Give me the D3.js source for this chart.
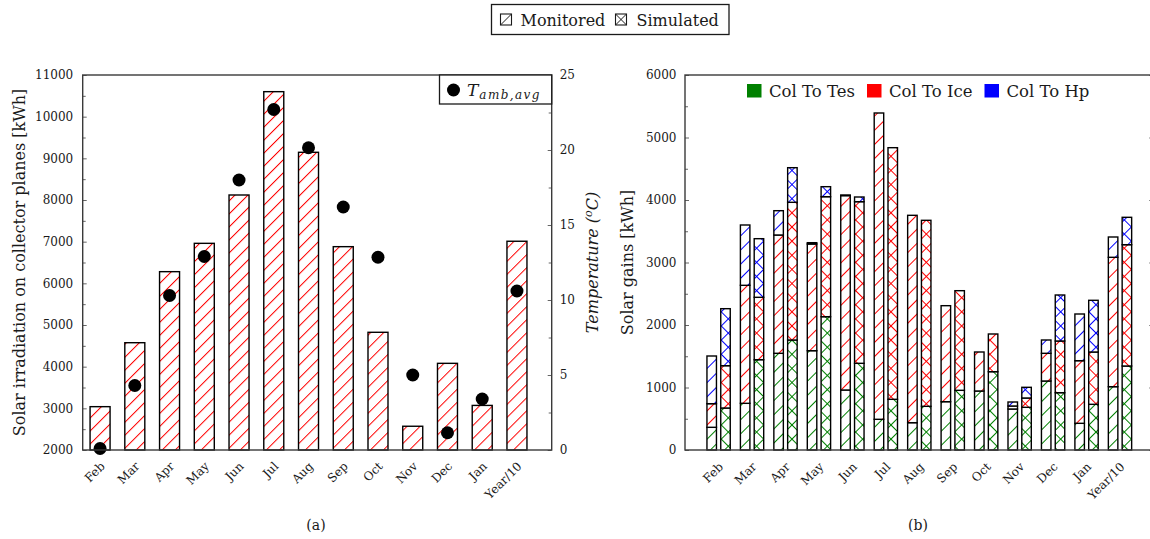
<!DOCTYPE html>
<html>
<head>
<meta charset="utf-8">
<script src="https://cdn.jsdelivr.net/npm/d3@7"></script>
<style>
  html, body { margin: 0; padding: 0; background: #fff; }
  svg { display: block; font-family: "DejaVu Serif", serif; }
</style>
</head>
<body>
<svg id="fig" width="1150" height="539"></svg>
<script>
// ---------- data ----------
const months = ["Feb", "Mar", "Apr", "May", "Jun", "Jul", "Aug", "Sep", "Oct", "Nov", "Dec", "Jan", "Year/10"];

// (a) solar irradiation on collector planes [kWh] and mean ambient temperature [°C]
const irradiation = [3040, 4575, 6280, 6960, 8120, 10600, 9145, 6880, 4825, 2570, 4080, 3070, 7010];
const tAmbAvg = [0.1, 4.3, 10.3, 12.9, 18.0, 22.7, 20.15, 16.2, 12.85, 5.0, 1.15, 3.4, 10.6];
const irrTicks = [2000, 3000, 4000, 5000, 6000, 7000, 8000, 9000, 10000, 11000];
const tempTicks = [0, 5, 10, 15, 20, 25];

// (b) solar gains [kWh], monitored and simulated, split by destination
const monColToTes = [363, 747, 1547, 1589, 960, 491, 437, 773, 944, 656, 1104, 427, 1013];
const monColToIce = [378, 1888, 1893, 1707, 3110, 4901, 3318, 1536, 624, 48, 443, 1002, 2070];
const monColToHp  = [763, 965, 389, 21, 10, 0, 0, 0, 0, 64, 213, 747, 325];
const simColToTes = [672, 1445, 1760, 2133, 1387, 811, 699, 955, 1253, 683, 917, 731, 1344];
const simColToIce = [677, 998, 2203, 1920, 2586, 4026, 2976, 1594, 603, 149, 827, 837, 1941];
const simColToHp  = [912, 938, 554, 160, 75, 0, 0, 0, 0, 171, 736, 827, 438];
const gainTicks = [0, 1000, 2000, 3000, 4000, 5000, 6000];

const seriesNames = ["Col To Tes", "Col To Ice", "Col To Hp"];
const seriesColors = ["#008000", "#ff0000", "#0000ff"];

// ---------- setup ----------
const svg = d3.select("#fig");
const defs = svg.append("defs");
const ink = "#1a1a1a";
const spine = "#3a3a3a";

// north-east lines, optionally crossed with north-west lines, as a rotated stripe pattern
function makePattern(id, color, cross, w) {
  const p = defs.append("pattern")
    .attr("id", id)
    .attr("patternUnits", "userSpaceOnUse")
    .attr("width", w).attr("height", w)
    .attr("patternTransform", "rotate(45)");
  p.append("rect").attr("width", w).attr("height", w).attr("fill", "#fff");
  p.append("rect").attr("x", 0).attr("y", 0).attr("width", 1).attr("height", w).attr("fill", color);
  if (cross) p.append("rect").attr("x", 0).attr("y", 0).attr("width", w).attr("height", 1).attr("fill", color);
  return `url(#${id})`;
}
const fillIrr = makePattern("irrHatch", "#ff0000", false, 9.2);
const monFill = seriesColors.map((c, i) => makePattern("mon" + i, c, false, 10));
const simFill = seriesColors.map((c, i) => makePattern("sim" + i, c, true, 10));

// ---------- top legend ----------
const topLeg = svg.append("g");
topLeg.append("rect").attr("x", 491.5).attr("y", 4.5).attr("width", 237.5).attr("height", 30)
  .attr("fill", "#fff").attr("stroke", ink).attr("stroke-width", 1.3);
function legendIcon(x, y, cross) {
  const g = topLeg.append("g").attr("transform", `translate(${x},${y})`);
  g.append("rect").attr("width", 11).attr("height", 11).attr("fill", "#fff")
    .attr("stroke", ink).attr("stroke-width", 1.1);
  g.append("path").attr("d", cross ? "M0,11L11,0M0,0L11,11" : "M0,11L11,0")
    .attr("stroke", ink).attr("stroke-width", 1);
}
legendIcon(500.5, 14, false);
topLeg.append("text").attr("x", 520.5).attr("y", 26).attr("font-size", 16).attr("fill", ink).text("Monitored");
legendIcon(615.5, 14, true);
topLeg.append("text").attr("x", 636.5).attr("y", 26).attr("font-size", 16).attr("fill", ink).text("Simulated");

// ---------- (a) ----------
const A = { left: 82.7, right: 551.7, top: 75, bottom: 450 };
const xA = d3.scaleLinear().domain([-0.5, 13]).range([A.left, A.right]);
const yA = d3.scaleLinear().domain([2000, 11000]).range([A.bottom, A.top]);
const yT = d3.scaleLinear().domain([0, 25]).range([A.bottom, A.top]);
const gA = svg.append("g");

gA.append("g").selectAll("rect").data(irradiation).join("rect")
  .attr("x", (d, i) => xA(i) - 10)
  .attr("width", 20)
  .attr("y", d => yA(d))
  .attr("height", d => yA(2000) - yA(d))
  .attr("fill", fillIrr)
  .attr("stroke", "#000").attr("stroke-width", 1.4);

gA.append("g").selectAll("circle").data(tAmbAvg).join("circle")
  .attr("cx", (d, i) => xA(i))
  .attr("cy", d => yT(d))
  .attr("r", 6.5)
  .attr("fill", "#000");

// left axis
const axLA = gA.append("g").attr("transform", `translate(${A.left},0)`)
  .call(d3.axisLeft(yA).tickValues(irrTicks).tickSize(-4).tickPadding(9.5).tickFormat(d3.format("d")));
const axLAm = gA.append("g").attr("transform", `translate(${A.left},0)`)
  .call(d3.axisLeft(yA).tickValues(d3.range(2500, 11000, 1000)).tickSize(-3).tickFormat(""));
// right axis
const axRA = gA.append("g").attr("transform", `translate(${A.right},0)`)
  .call(d3.axisRight(yT).tickValues(tempTicks).tickSize(-4).tickPadding(8));
const axRAm = gA.append("g").attr("transform", `translate(${A.right},0)`)
  .call(d3.axisRight(yT).tickValues([2.5, 7.5, 12.5, 17.5, 22.5]).tickSize(-3).tickFormat(""));
[axLA, axLAm, axRA, axRAm].forEach(a => {
  a.select(".domain").remove();
  a.selectAll(".tick line").attr("stroke", "#666").attr("stroke-width", 1);
  a.selectAll("text").attr("font-family", "DejaVu Serif").attr("font-size", 12).attr("fill", ink);
});

gA.append("rect").attr("x", A.left).attr("y", A.top)
  .attr("width", A.right - A.left).attr("height", A.bottom - A.top)
  .attr("fill", "none").attr("stroke", spine).attr("stroke-width", 1.4);

// month labels
gA.append("g").selectAll("text").data(months).join("text")
  .attr("transform", (d, i) => `translate(${xA(i) + 5.5},467) rotate(-45)`)
  .attr("text-anchor", "end").attr("font-size", 12).attr("fill", ink)
  .text(d => d);

// axis titles
gA.append("text").attr("transform", `translate(25,262.5) rotate(-90)`)
  .attr("text-anchor", "middle").attr("font-size", 16).attr("fill", ink)
  .text("Solar irradiation on collector planes [kWh]");
const tTitle = gA.append("text").attr("transform", `translate(598,262.5) rotate(-90)`)
  .attr("text-anchor", "middle").attr("font-size", 16).attr("font-style", "italic").attr("fill", ink);
tTitle.append("tspan").text("Temperature (");
tTitle.append("tspan").attr("font-size", 11).attr("dy", -6).text("o");
tTitle.append("tspan").attr("dy", 6).text("C)");

// temperature legend
const legA = gA.append("g");
legA.append("rect").attr("x", 439.5).attr("y", A.top).attr("width", A.right - 439.5).attr("height", 29)
  .attr("fill", "#fff").attr("stroke", ink).attr("stroke-width", 1.3);
legA.append("circle").attr("cx", 453.5).attr("cy", 90).attr("r", 6.5).attr("fill", "#000");
const lt = legA.append("text").attr("x", 467).attr("y", 95.5).attr("font-size", 17)
  .attr("font-style", "italic").attr("fill", ink);
lt.append("tspan").text("T");
lt.append("tspan").attr("font-size", 12).attr("dy", 3.5).attr("dx", 1).attr("letter-spacing", 1.4).text("amb,avg");

gA.append("text").attr("x", 316).attr("y", 529.5).attr("text-anchor", "middle")
  .attr("font-size", 14).attr("fill", ink).text("(a)");

// ---------- (b) ----------
const B = { left: 685, right: 1153.3, top: 75, bottom: 450 };
const xB = d3.scaleLinear().domain([-1, 13]).range([B.left, B.right]);
const yB = d3.scaleLinear().domain([0, 6000]).range([B.bottom, B.top]);
const gB = svg.append("g");

function stackRows(tes, ice, hp) {
  return months.map((m, i) => {
    const vals = [tes[i], ice[i], hp[i]];
    let base = 0;
    return vals.map((v, k) => {
      const seg = { i, k, y0: base, y1: base + v };
      base += v;
      return seg;
    });
  }).flat().filter(s => s.y1 > s.y0);
}
const monSegs = stackRows(monColToTes, monColToIce, monColToHp);
const simSegs = stackRows(simColToTes, simColToIce, simColToHp);

gB.append("g").selectAll("rect").data(monSegs).join("rect")
  .attr("x", d => xB(d.i) - 11.5)
  .attr("width", 9.5)
  .attr("y", d => yB(d.y1))
  .attr("height", d => yB(d.y0) - yB(d.y1))
  .attr("fill", d => monFill[d.k])
  .attr("stroke", "#000").attr("stroke-width", 1.4);
gB.append("g").selectAll("rect").data(simSegs).join("rect")
  .attr("x", d => xB(d.i) + 2.3)
  .attr("width", 9.5)
  .attr("y", d => yB(d.y1))
  .attr("height", d => yB(d.y0) - yB(d.y1))
  .attr("fill", d => simFill[d.k])
  .attr("stroke", "#000").attr("stroke-width", 1.4);

const axLB = gB.append("g").attr("transform", `translate(${B.left},0)`)
  .call(d3.axisLeft(yB).tickValues(gainTicks).tickSize(-4).tickPadding(8.5).tickFormat(d3.format("d")));
const axLBm = gB.append("g").attr("transform", `translate(${B.left},0)`)
  .call(d3.axisLeft(yB).tickValues(d3.range(500, 6000, 1000)).tickSize(-3).tickFormat(""));
const axRB = gB.append("g").attr("transform", `translate(${B.right},0)`)
  .call(d3.axisRight(yB).tickValues(gainTicks).tickSize(-4).tickFormat(""));
[axLB, axLBm, axRB].forEach(a => {
  a.select(".domain").remove();
  a.selectAll(".tick line").attr("stroke", "#666").attr("stroke-width", 1);
  a.selectAll("text").attr("font-family", "DejaVu Serif").attr("font-size", 12).attr("fill", ink);
});

gB.append("rect").attr("x", B.left).attr("y", B.top)
  .attr("width", B.right - B.left).attr("height", B.bottom - B.top)
  .attr("fill", "none").attr("stroke", spine).attr("stroke-width", 1.4);

gB.append("g").selectAll("text").data(months).join("text")
  .attr("transform", (d, i) => `translate(${xB(i) + 5.5},467.5) rotate(-45)`)
  .attr("text-anchor", "end").attr("font-size", 12).attr("fill", ink)
  .text(d => d);

gB.append("text").attr("transform", `translate(633,262.5) rotate(-90)`)
  .attr("text-anchor", "middle").attr("font-size", 16).attr("fill", ink)
  .text("Solar gains [kWh]");

// series legend
const legX = [747, 867, 984.5];
const legB = gB.append("g").selectAll("g").data(seriesNames).join("g")
  .attr("transform", (d, i) => `translate(${legX[i]},84)`);
legB.append("rect").attr("width", 14.5).attr("height", 13.5).attr("fill", (d, i) => seriesColors[i]);
legB.append("text").attr("x", 22).attr("y", 12.8).attr("font-size", 16.5).attr("fill", ink).text(d => d);

gB.append("text").attr("x", 918).attr("y", 529.5).attr("text-anchor", "middle")
  .attr("font-size", 14).attr("fill", ink).text("(b)");
</script>
</body>
</html>
